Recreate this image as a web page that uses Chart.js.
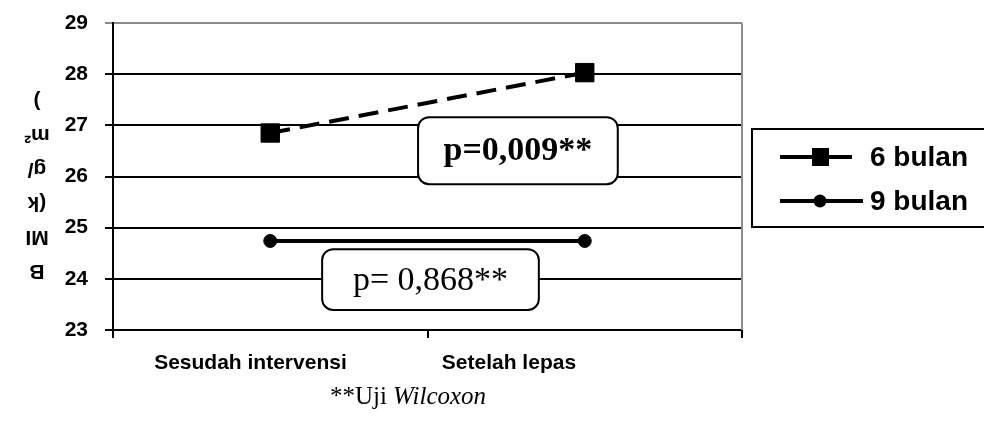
<!DOCTYPE html>
<html>
<head>
<meta charset="utf-8">
<script src="https://cdn.jsdelivr.net/npm/chart.js@4"></script>
<style>
  html, body { margin: 0; padding: 0; background: #fff; }
  canvas { display: block; }
</style>
</head>
<body>
<canvas id="myChart" width="984" height="421"></canvas>
<script>
var categories = ["Sesudah intervensi", "Setelah lepas"];
var bulan6 = [26.85, 28.03];
var bulan9 = [24.74, 24.74];
var seriesNames = ["6 bulan", "9 bulan"];
var yMin = 23, yMax = 29, yStep = 1;
var yTitleLines = ["B", "MI", "(k", "g/", "m\u00b2", ")"];
var pNotes = ["p=0,009**", "p= 0,868**"];
var footnote = ["**Uji ", "Wilcoxon"];

var SANS = "'Liberation Sans', Arial, sans-serif";
var SERIF = "'Liberation Serif', 'Times New Roman', serif";

// category labels sit a bit left of the points in the original
var labelShift = [-0.063, -0.241];

var extras = {
    id: "extras",
    afterDraw: function(chart){
        var c = chart.ctx, a = chart.chartArea;
        var xs = chart.scales.x, ys = chart.scales.y;

        // grey right border of the plot area
        c.save();
        c.strokeStyle = "#8c8c8c";
        c.lineWidth = 2;
        c.beginPath();
        c.moveTo(a.right, a.top);
        c.lineTo(a.right, a.bottom);
        c.stroke();
        c.restore();

        // category labels
        c.save();
        c.fillStyle = "#000";
        c.font = "bold 21px " + SANS;
        c.textAlign = "center";
        c.textBaseline = "middle";
        chart.data.labels.forEach(function(lab, i){
            c.fillText(lab, xs.getPixelForValue(i + labelShift[i]), a.bottom + 33);
        });
        c.restore();

        // y title, stacked and upside down
        c.save();
        c.translate(37, 186);
        c.rotate(Math.PI);
        c.fillStyle = "#000";
        c.font = "bold 21px " + SANS;
        c.textAlign = "center";
        c.textBaseline = "middle";
        for(var i = 0; i < yTitleLines.length; i++){
            c.fillText(yTitleLines[i], 0, -85 + i*34);
        }
        c.restore();

        // p-value boxes
        function box(x0, x1, y0, y1, text, bold){
            var l = xs.getPixelForValue(x0), r = xs.getPixelForValue(x1);
            var t = ys.getPixelForValue(y0), b = ys.getPixelForValue(y1);
            c.save();
            c.fillStyle = "#fff";
            c.strokeStyle = "#000";
            c.lineWidth = 2;
            c.beginPath();
            c.roundRect(l, t, r - l, b - t, 11);
            c.fill();
            c.stroke();
            c.fillStyle = "#000";
            c.font = (bold ? "bold " : "") + "34px " + SERIF;
            c.textAlign = "center";
            c.textBaseline = "middle";
            c.fillText(text, (l + r)/2, (t + b)/2 + 1);
            c.restore();
        }
        box(0.47, 1.105, 27.16, 25.85, pNotes[0], true);
        box(0.165, 0.854, 24.58, 23.39, pNotes[1], false);

        // footnote
        c.save();
        c.fillStyle = "#000";
        c.textBaseline = "middle";
        c.font = "25px " + SERIF;
        var w1 = c.measureText(footnote[0]).width;
        c.font = "italic 25px " + SERIF;
        var w2 = c.measureText(footnote[1]).width;
        var sx = 408 - (w1 + w2)/2;
        c.font = "25px " + SERIF;
        c.fillText(footnote[0], sx, 397);
        c.font = "italic 25px " + SERIF;
        c.fillText(footnote[1], sx + w1, 397);
        c.restore();

        // legend
        c.save();
        c.strokeStyle = "#000";
        c.lineWidth = 2;
        c.strokeRect(752, 129, 240, 98);
        var rows = [157, 201];
        chart.data.datasets.forEach(function(ds, k){
            var y = rows[k];
            c.strokeStyle = "#000";
            c.lineWidth = 4;
            c.beginPath();
            c.moveTo(780, y);
            c.lineTo(k == 0 ? 852 : 863, y);
            c.stroke();
            c.fillStyle = "#000";
            if(ds.pointStyle == "rect"){
                c.fillRect(812, y - 9, 17, 18);
            } else {
                c.beginPath();
                c.arc(820, y, 6.5, 0, Math.PI*2);
                c.fill();
            }
            c.font = "bold 28px " + SANS;
            c.textBaseline = "middle";
            c.textAlign = "left";
            c.fillText(ds.label, 870, y + 1);
        });
        c.restore();
    }
};

var ctx = document.getElementById("myChart").getContext("2d");

var myChart = new Chart(ctx, {
    type: "line",
    data: {
        labels: categories,
        datasets: [
            {
                label: seriesNames[0],
                data: bulan6,
                borderColor: "#000",
                borderWidth: 4,
                borderDash: [20, 10],
                pointStyle: "rect",
                pointRadius: 13,
                pointBackgroundColor: "#000",
                pointBorderColor: "#000",
                pointBorderWidth: 1
            },
            {
                label: seriesNames[1],
                data: bulan9,
                borderColor: "#000",
                borderWidth: 4,
                pointStyle: "circle",
                pointRadius: 6.5,
                pointBackgroundColor: "#000",
                pointBorderColor: "#000",
                pointBorderWidth: 1
            }
        ]
    },
    options: {
        responsive: false,
        animation: false,
        layout: { padding: { top: 23, right: 242, left: 0, bottom: 0 } },
        plugins: {
            legend: { display: false },
            tooltip: { enabled: false }
        },
        scales: {
            x: {
                type: "category",
                offset: true,
                grid: { offset: true, drawOnChartArea: false, tickLength: 8, color: "#000", lineWidth: 2 },
                border: { color: "#000", width: 2 },
                ticks: { display: false },
                afterFit: function(s){ s.height = 91; }
            },
            y: {
                min: yMin,
                max: yMax,
                ticks: { stepSize: yStep, color: "#000", font: { family: SANS, size: 21, weight: "bold" }, padding: 17 },
                grid: {
                    tickLength: 8,
                    lineWidth: 2,
                    color: function(c){ return c.tick && c.tick.value == yMax ? "#8c8c8c" : "#000"; }
                },
                border: { color: "#000", width: 2 },
                afterFit: function(s){
                    s.width = 113;
                    s.paddingTop = 0;
                    s.paddingBottom = 0;
                }
            }
        }
    },
    plugins: [extras]
});
</script>
</body>
</html>
